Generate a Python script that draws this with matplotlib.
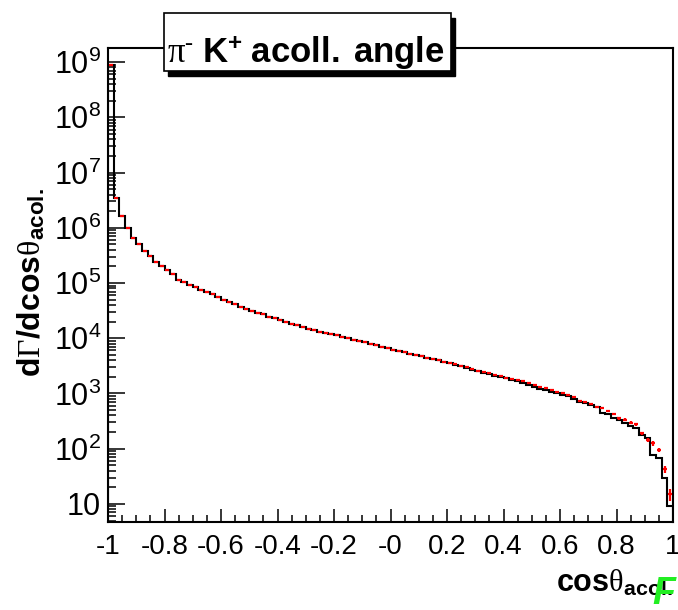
import numpy as np
import matplotlib
matplotlib.use("Agg")
import matplotlib.pyplot as plt
from matplotlib.patches import Rectangle
from matplotlib.ticker import FixedLocator, FixedFormatter, LogLocator, NullFormatter, MultipleLocator

plt.rcParams['font.family'] = 'Liberation Sans'
plt.rcParams['mathtext.fontset'] = 'custom'
plt.rcParams['mathtext.rm'] = 'Liberation Serif'
plt.rcParams['mathtext.it'] = 'Liberation Serif:italic'
plt.rcParams['mathtext.bf'] = 'Liberation Sans:bold'
plt.rcParams['mathtext.sf'] = 'Liberation Sans'

# 100 bins in cos(theta_acol) from -1 to 1
edges = np.linspace(-1, 1, 101)

# black histogram (prediction)
black = [9.0e8, 3.5e6, 1.6e6, 9.9e5, 6.5e5, 5.0e5, 3.8e5, 3.05e5, 2.45e5, 2.0e5,
         1.7e5, 1.45e5, 1.15e5, 1.05e5, 9.3e4, 8.5e4, 7.6e4, 6.9e4, 6.2e4, 5.6e4,
         5.0e4, 4.6e4, 4.2e4, 3.75e4, 3.4e4, 3.1e4, 2.9e4, 2.7e4, 2.45e4, 2.3e4,
         2.1e4, 1.95e4, 1.8e4, 1.7e4, 1.6e4, 1.48e4, 1.4e4, 1.32e4, 1.26e4, 1.2e4,
         1.14e4, 1.07e4, 1.0e4, 9.4e3, 8.9e3, 8.4e3, 7.9e3, 7.4e3, 7.0e3, 6.6e3,
         6.2e3, 5.9e3, 5.55e3, 5.25e3, 5.0e3, 4.75e3, 4.45e3, 4.2e3, 4.0e3, 3.7e3,
         3.5e3, 3.3e3, 3.1e3, 2.9e3, 2.7e3, 2.5e3, 2.37e3, 2.24e3, 2.1e3, 2.0e3,
         1.87e3, 1.76e3, 1.66e3, 1.55e3, 1.45e3, 1.3e3, 1.22e3, 1.15e3, 1.06e3, 1.0e3,
         950, 897, 781, 708, 662, 617, 575, 448, 419, 364,
         330, 295, 257, 234, 177, 154, 77, 69, 29, 9.2]

# red points (generated events)
red = [9.0e8, 3.5e6, 1.6e6, 9.9e5, 6.5e5, 5.0e5, 3.8e5, 3.05e5, 2.45e5, 2.0e5,
       1.7e5, 1.45e5, 1.15e5, 1.05e5, 9.3e4, 8.5e4, 7.6e4, 6.9e4, 6.2e4, 5.6e4,
       5.0e4, 4.6e4, 4.2e4, 3.75e4, 3.4e4, 3.1e4, 2.9e4, 2.7e4, 2.45e4, 2.3e4,
       2.1e4, 1.95e4, 1.8e4, 1.7e4, 1.6e4, 1.48e4, 1.4e4, 1.32e4, 1.26e4, 1.2e4,
       1.14e4, 1.07e4, 1.0e4, 9.4e3, 8.9e3, 8.4e3, 7.9e3, 7.4e3, 7.0e3, 6.6e3,
       6.2e3, 5.9e3, 5.55e3, 5.25e3, 5.0e3, 4.75e3, 4.45e3, 4.2e3, 4.0e3, 3.7e3,
       3.55e3, 3.35e3, 3.15e3, 2.95e3, 2.78e3, 2.6e3, 2.45e3, 2.3e3, 2.2e3, 2.05e3,
       1.93e3, 1.82e3, 1.72e3, 1.65e3, 1.55e3, 1.4e3, 1.33e3, 1.25e3, 1.15e3, 1.07e3,
       1005, 935, 872, 728, 690, 643, 575, 552, 487, 424,
       354, 335, 295, 276, 190, 144, 125, 95, 42, 15]

xticks = [-1, -0.8, -0.6, -0.4, -0.2, 0, 0.2, 0.4, 0.6, 0.8, 1]
xticklabels = ['-1', '-0.8', '-0.6', '-0.4', '-0.2', '-0', '0.2', '0.4', '0.6', '0.8', '1']
yticks = [10, 1e2, 1e3, 1e4, 1e5, 1e6, 1e7, 1e8, 1e9]
yticklabels = ['10'] + [r'$\mathsf{10^{%d}}$' % k for k in range(2, 10)]

black = np.array(black)
red = np.array(red)
centers = 0.5 * (edges[:-1] + edges[1:])

fig = plt.figure(figsize=(6.78, 6.10), dpi=100)
ax = fig.add_axes([108 / 678, 1 - 522 / 610, 565 / 678, 474 / 610])

ax.stairs(black, edges, baseline=1, color='black', lw=1.5, zorder=2)
ax.errorbar(centers, red, xerr=0.007, yerr=np.sqrt(red), fmt='none',
            ecolor='red', elinewidth=1.6, capsize=0, zorder=3)

ax.set_yscale('log')
ax.set_xlim(-1, 1)
ax.set_ylim(4.7, 1.8e9)

ax.xaxis.set_major_locator(FixedLocator(xticks))
ax.xaxis.set_major_formatter(FixedFormatter(xticklabels))
ax.xaxis.set_minor_locator(MultipleLocator(0.05))
ax.yaxis.set_major_locator(FixedLocator(yticks))
ax.yaxis.set_major_formatter(FixedFormatter(yticklabels))
ax.yaxis.set_minor_locator(LogLocator(base=10, subs=np.arange(2, 10), numticks=20))
ax.yaxis.set_minor_formatter(NullFormatter())

ax.tick_params(which='both', direction='in', top=False, right=False, width=1.1, color='black')
ax.tick_params(axis='x', which='major', length=9.5, pad=9, labelsize=20)
ax.tick_params(axis='x', which='minor', length=5)
ax.tick_params(axis='y', which='major', length=12, pad=5, labelsize=22)
ax.tick_params(axis='y', which='minor', length=6)
for sp in ax.spines.values():
    sp.set_linewidth(1.5)

# axis titles
fig.text(32 / 678, 1 - 283 / 610,
         r'$\mathbf{d}\mathrm{\Gamma}\mathbf{/dcos}\mathrm{\theta}_{\mathbf{acol.}}$',
         rotation=90, ha='center', va='center', fontsize=23)
fig.text(673 / 678, 1 - 592 / 610,
         r'$\mathbf{cos}\mathrm{\theta}_{\mathbf{acol.}}$',
         ha='right', va='baseline', fontsize=22)

# title box with shadow
bx0, bx1, by0, by1 = 164, 451, 13, 71
fig.add_artist(Rectangle((bx0 / 678 + 4 / 678, 1 - (by1 + 5) / 610), (bx1 - bx0) / 678, (by1 - by0) / 610,
                         transform=fig.transFigure, facecolor='black', edgecolor='black', zorder=5))
fig.add_artist(Rectangle((bx0 / 678, 1 - by1 / 610), (bx1 - bx0) / 678, (by1 - by0) / 610,
                         transform=fig.transFigure, facecolor='white', edgecolor='black', lw=1.2, zorder=6))
fig.text(306 / 678, 1 - 63 / 610,
         r'$\mathrm{\pi}^{\mathbf{\text{-}}}\ \mathbf{K}^{\mathbf{+}}\ \mathbf{acoll.\ angle}$',
         ha='center', va='baseline', fontsize=25, zorder=7)

# green mark in the corner
fig.text(652 / 678, 1 - 604 / 610, 'F', color='#22ee22', fontsize=27,
         fontstyle='italic', fontweight='bold', ha='left', va='baseline', zorder=8)

fig.savefig('out.png', dpi=100)
